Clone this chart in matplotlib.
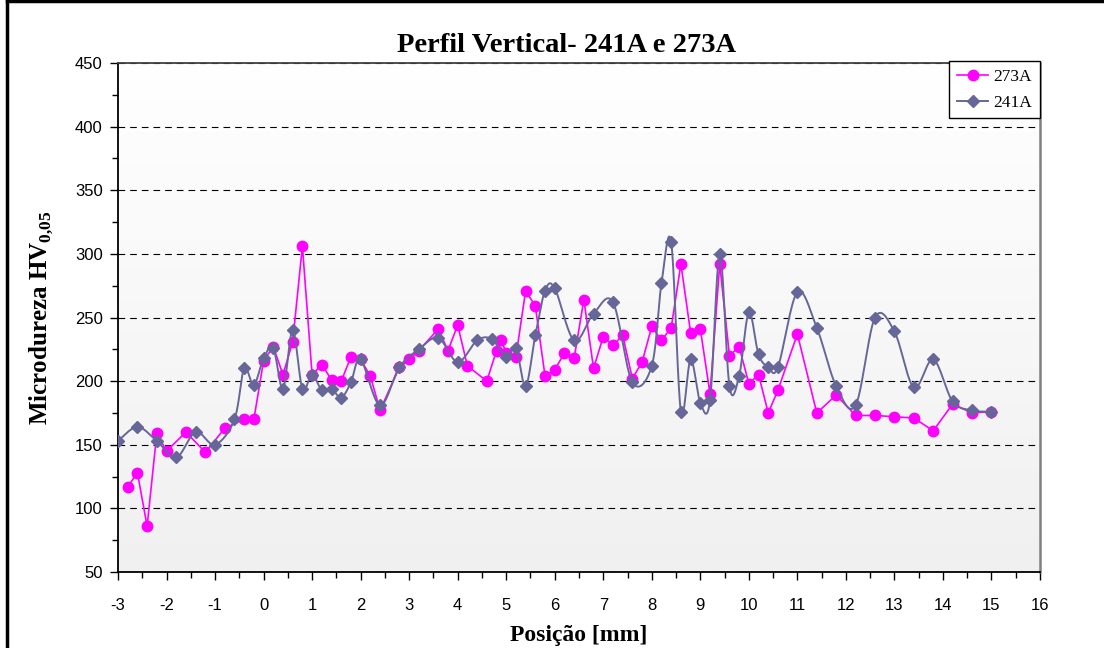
import numpy as np
import matplotlib
matplotlib.use("Agg")
from matplotlib import pyplot as plt
from matplotlib.lines import Line2D
from matplotlib.ticker import MultipleLocator

plt.rcParams["axes.unicode_minus"] = False
plt.rcParams["mathtext.fontset"] = "custom"
plt.rcParams["mathtext.rm"] = "Liberation Serif:bold"
plt.rcParams["mathtext.bf"] = "Liberation Serif:bold"

# 273A - magenta circles, straight segments
x_273 = [-2.8, -2.6, -2.4, -2.2, -2.0, -1.6, -1.2, -0.8, -0.4, -0.2,
         0.0, 0.2, 0.4, 0.6, 0.8, 1.0, 1.2, 1.4, 1.6, 1.8,
         2.0, 2.2, 2.4, 2.8, 3.0, 3.2, 3.6, 3.8, 4.0, 4.2,
         4.6, 4.8, 4.9, 5.0, 5.2, 5.4, 5.6, 5.8, 6.0, 6.2,
         6.4, 6.6, 6.8, 7.0, 7.2, 7.4, 7.6, 7.8, 8.0, 8.2,
         8.4, 8.6, 8.8, 9.0, 9.2, 9.4, 9.6, 9.8, 10.0, 10.2,
         10.4, 10.6, 11.0, 11.4, 11.8, 12.2, 12.6, 13.0, 13.4, 13.8,
         14.2, 14.6, 15.0]
hv_273 = [117, 128, 86, 159, 145, 160, 144, 163, 170, 170,
          216, 227, 205, 231, 306, 205, 213, 201, 200, 219,
          217, 204, 177, 211, 217, 224, 241, 224, 244, 212,
          200, 224, 232, 222, 219, 271, 259, 204, 209, 222,
          218, 264, 210, 235, 228, 236, 202, 215, 243, 232,
          242, 292, 238, 241, 190, 292, 220, 227, 198, 205,
          175, 193, 237, 175, 189, 173, 173, 172, 171, 161,
          182, 175, 176]

# 241A - slate diamonds, smoothed line
x_241 = [-3.0, -2.6, -2.2, -1.8, -1.4, -1.0, -0.6, -0.4, -0.2,
         0.0, 0.2, 0.4, 0.6, 0.8, 1.0, 1.2, 1.4, 1.6, 1.8,
         2.0, 2.4, 2.8, 3.2, 3.6, 4.0, 4.4, 4.7, 5.0, 5.2,
         5.4, 5.6, 5.8, 6.0, 6.4, 6.8, 7.2, 7.6, 8.0, 8.2,
         8.4, 8.6, 8.8, 9.0, 9.2, 9.4, 9.6, 9.8, 10.0, 10.2,
         10.4, 10.6, 11.0, 11.4, 11.8, 12.2, 12.6, 13.0, 13.4, 13.8,
         14.2, 14.6, 15.0]
hv_241 = [153, 164, 153, 140, 160, 150, 170, 210, 197,
          218, 226, 194, 240, 194, 205, 193, 194, 187, 199,
          217, 181, 211, 225, 234, 215, 232, 233, 219, 226,
          196, 236, 271, 273, 232, 253, 262, 199, 212, 277,
          309, 176, 217, 183, 185, 300, 196, 204, 254, 221,
          211, 211, 270, 242, 196, 181, 250, 239, 195, 217,
          184, 177, 176]

C_273 = "#FF00FF"
C_241 = "#666699"


def smooth(xs, ys, n=20):
    # Catmull-Rom style curve through the points (Excel "smoothed line")
    xs = np.asarray(xs, float)
    ys = np.asarray(ys, float)
    px = np.concatenate([[xs[0]], xs, [xs[-1]]])
    py = np.concatenate([[ys[0]], ys, [ys[-1]]])
    outx, outy = [], []
    t = np.linspace(0, 1, n)
    for i in range(1, len(px) - 2):
        x0, x1, x2, x3 = px[i - 1:i + 3]
        y0, y1, y2, y3 = py[i - 1:i + 3]
        cx1, cy1 = x1 + (x2 - x0) / 6, y1 + (y2 - y0) / 6
        cx2, cy2 = x2 - (x3 - x1) / 6, y2 - (y3 - y1) / 6
        b0 = (1 - t) ** 3
        b1 = 3 * (1 - t) ** 2 * t
        b2 = 3 * (1 - t) * t ** 2
        b3 = t ** 3
        outx.extend(b0 * x1 + b1 * cx1 + b2 * cx2 + b3 * x2)
        outy.extend(b0 * y1 + b1 * cy1 + b2 * cy2 + b3 * y2)
    return outx, outy


fig = plt.figure(figsize=(11.04, 6.48), dpi=100)
ax = fig.add_axes([118 / 1104, 1 - 572 / 648, 922 / 1104, 509 / 648])

# plot area gradient (white top -> light gray bottom)
grad = np.linspace(0, 1, 256).reshape(-1, 1)
ax.imshow(grad, cmap=matplotlib.colors.LinearSegmentedColormap.from_list(
    "g", ["#FFFFFF", "#F0F0F0"]), extent=[0, 1, 0, 1], transform=ax.transAxes,
    aspect="auto", zorder=0, interpolation="bicubic")

ax.set_xlim(-3, 16)
ax.set_ylim(50, 450)
ax.yaxis.grid(True, color="black", linestyle=(0, (6, 4.5)), linewidth=0.8)
ax.set_axisbelow(True)

ax.plot(x_273, hv_273, color=C_273, lw=1.2, marker="o", ms=7.5,
        mec=C_273, mfc=C_273, zorder=3)
sx, sy = smooth(x_241, hv_241)
ax.plot(sx, sy, color=C_241, lw=1.4, zorder=4)
ax.plot(x_241, hv_241, ls="none", marker="D", ms=6, color=C_241, zorder=5)

ax.xaxis.set_major_locator(MultipleLocator(1))
ax.xaxis.set_minor_locator(MultipleLocator(0.5))
ax.yaxis.set_major_locator(MultipleLocator(50))
ax.yaxis.set_minor_locator(MultipleLocator(25))
ax.tick_params(which="major", direction="out", length=6, width=1,
               labelsize=12)
ax.tick_params(axis="x", which="major", pad=13)
ax.tick_params(axis="y", which="major", pad=5)
ax.tick_params(which="minor", direction="out", length=4, width=1)
for lab in ax.get_xticklabels() + ax.get_yticklabels():
    lab.set_family("Liberation Sans")

ax.spines["left"].set_linewidth(1.3)
ax.spines["bottom"].set_linewidth(1.3)
ax.spines["top"].set_color("#404040")
ax.spines["top"].set_linewidth(1.3)
ax.spines["right"].set_color("#808080")
ax.spines["right"].set_linewidth(1.8)

serif = "Liberation Serif"
fig.text(567 / 1104, 1 - 45 / 648, "Perfil Vertical- 241A e 273A",
         fontsize=20.5, fontweight="bold", family=serif,
         ha="center", va="center")
ax.set_xlabel("Posição [mm]", fontsize=17, fontweight="bold", family=serif,
              labelpad=8)
ax.set_ylabel(r"Microdureza HV$_{0{,}05}$", fontsize=18,
              fontweight="bold", family=serif, labelpad=14)

handles = [Line2D([], [], color=C_273, lw=1.2, marker="o", ms=7.5),
           Line2D([], [], color=C_241, lw=1.4, marker="D", ms=6)]
leg = ax.legend(handles, ["273A", "241A"], loc="upper right",
                bbox_to_anchor=(1.0, 1.004), borderaxespad=0, fancybox=False,
                framealpha=1, edgecolor="black", handlelength=1.8,
                prop={"family": serif, "size": 12.5}, borderpad=0.45,
                labelspacing=0.55, handletextpad=0.3)
leg.get_frame().set_linewidth(1.0)

# outer chart frame
fig.add_artist(Line2D([7 / 1104, 7 / 1104], [0, 1 - 1 / 648], color="black",
                      lw=2.5, transform=fig.transFigure))
fig.add_artist(Line2D([7 / 1104, 1], [1 - 1 / 648, 1 - 1 / 648],
                      color="black", lw=2.5, transform=fig.transFigure))

fig.savefig("out.png", dpi=100)
